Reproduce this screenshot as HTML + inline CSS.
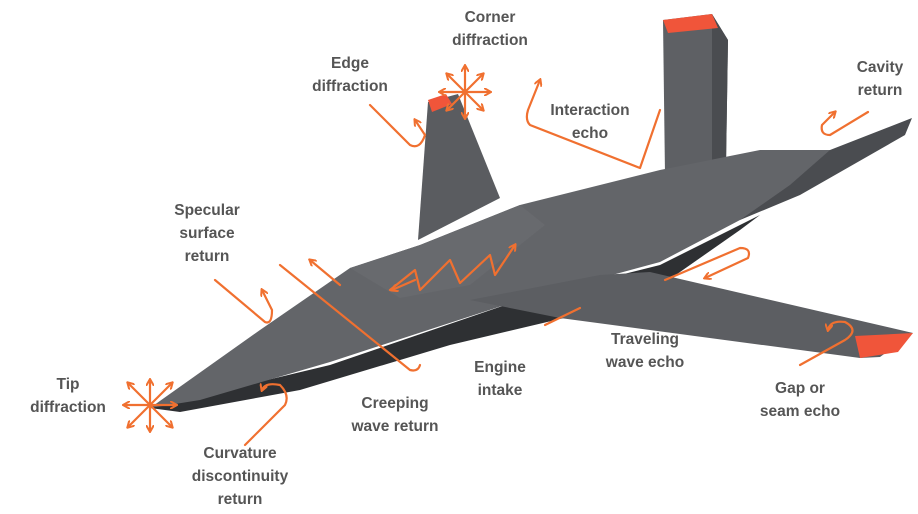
<!DOCTYPE html>
<html><head><meta charset="utf-8"><style>
html,body{margin:0;padding:0;background:#fff;}
svg{display:block;}
text{font-family:"Liberation Sans",sans-serif;font-size:15.5px;fill:#555;font-weight:bold;text-anchor:middle;}
.o{stroke:#f07030;stroke-width:2.2;fill:none;stroke-linecap:round;stroke-linejoin:round;}
</style></head><body>
<svg width="918" height="514" viewBox="0 0 918 514">
<defs><marker id="a" markerWidth="8" markerHeight="8" refX="6" refY="4" orient="auto" markerUnits="userSpaceOnUse"><path d="M0,0 L7,4 L0,8" fill="none" stroke="#f07030" stroke-width="2"/></marker></defs>
<!-- right fin -->
<polygon points="663,20 712,14 728,40 726,165 665,175" fill="#5e6064"/>
<polygon points="712,14 728,40 726,165 712,170" fill="#4a4c50"/>
<polygon points="663,20 712,14 718,28 668,33" fill="#f0553a"/>
<!-- left fin -->
<polygon points="428,102 458,94 500,198 418,240" fill="#5a5c60"/>
<polygon points="428,100 446,94 452,104 432,112" fill="#f0553a"/>
<!-- rear tail stabilizer -->
<polygon points="760,155 830,150 912,118 905,135 800,195 740,220" fill="#4a4c50"/>
<!-- fuselage lower dark -->
<polygon points="150,408 330,365 520,300 660,265 760,215 740,230 640,300 450,345 300,390 180,412" fill="#2e3033"/>
<!-- fuselage top -->
<polygon points="150,408 260,330 350,268 420,245 520,205 660,170 760,150 830,150 790,185 740,220 660,262 520,300 330,362 200,400" fill="#636569"/>
<polygon points="350,268 420,245 520,205 545,225 470,285 400,298" fill="#686a6e"/>
<!-- wing -->
<polygon points="600,275 650,272 913,333 880,357 860,358 560,318 470,300" fill="#5c5e62"/>
<polygon points="855,336 913,333 898,352 860,358" fill="#f0553a"/>
<!-- arrows -->
<g class="o" marker-end="url(#a)">
<line x1="150" y1="405" x2="128" y2="383"/><line x1="150" y1="405" x2="172" y2="383"/>
<line x1="150" y1="405" x2="128" y2="427"/><line x1="150" y1="405" x2="172" y2="427"/>
<line x1="150" y1="405" x2="150" y2="380"/><line x1="150" y1="405" x2="150" y2="431"/>
<line x1="150" y1="405" x2="124" y2="405"/><line x1="150" y1="405" x2="176" y2="405"/>
<line x1="465" y1="92" x2="447" y2="74"/><line x1="465" y1="92" x2="483" y2="74"/>
<line x1="465" y1="92" x2="447" y2="110"/><line x1="465" y1="92" x2="483" y2="110"/>
<line x1="465" y1="92" x2="465" y2="66"/><line x1="465" y1="92" x2="465" y2="118"/>
<line x1="465" y1="92" x2="440" y2="92"/><line x1="465" y1="92" x2="490" y2="92"/>
<path d="M370,105 L410,145 Q420,150 425,135 L415,120"/>
<path d="M660,110 L640,168 L530,125 Q525,120 528,110 L540,80"/>
<path d="M868,112 L830,135 Q820,135 822,125 L835,112"/>
<path d="M215,280 L265,322 Q272,325 272,310 L262,290"/>
<path d="M340,285 L310,260"/>
<path d="M245,445 L285,405 Q290,395 280,385 Q265,382 262,390"/>
<path d="M390,290 L415,270 L420,290 L450,260 L460,283 L490,255 L495,275 L515,245"/>
<path d="M415,280 L392,290"/>
<path d="M665,280 L740,248 Q752,248 748,258 L705,278"/>
<path d="M800,365 L845,340 Q860,330 845,322 Q830,320 828,330"/>
</g>
<g class="o">
<path d="M280,265 L410,370 Q418,372 420,365"/>
<path d="M545,325 L580,308"/>
</g>
<text x="490" y="22">Corner</text><text x="490" y="45">diffraction</text>
<text x="350" y="68">Edge</text><text x="350" y="91">diffraction</text>
<text x="590" y="115">Interaction</text><text x="590" y="138">echo</text>
<text x="880" y="72">Cavity</text><text x="880" y="95">return</text>
<text x="207" y="215">Specular</text><text x="207" y="238">surface</text><text x="207" y="261">return</text>
<text x="68" y="389">Tip</text><text x="68" y="412">diffraction</text>
<text x="500" y="372">Engine</text><text x="500" y="395">intake</text>
<text x="395" y="408">Creeping</text><text x="395" y="431">wave return</text>
<text x="645" y="344">Traveling</text><text x="645" y="367">wave echo</text>
<text x="800" y="393">Gap or</text><text x="800" y="416">seam echo</text>
<text x="240" y="458">Curvature</text><text x="240" y="481">discontinuity</text><text x="240" y="504">return</text>
</svg>
</body></html>
